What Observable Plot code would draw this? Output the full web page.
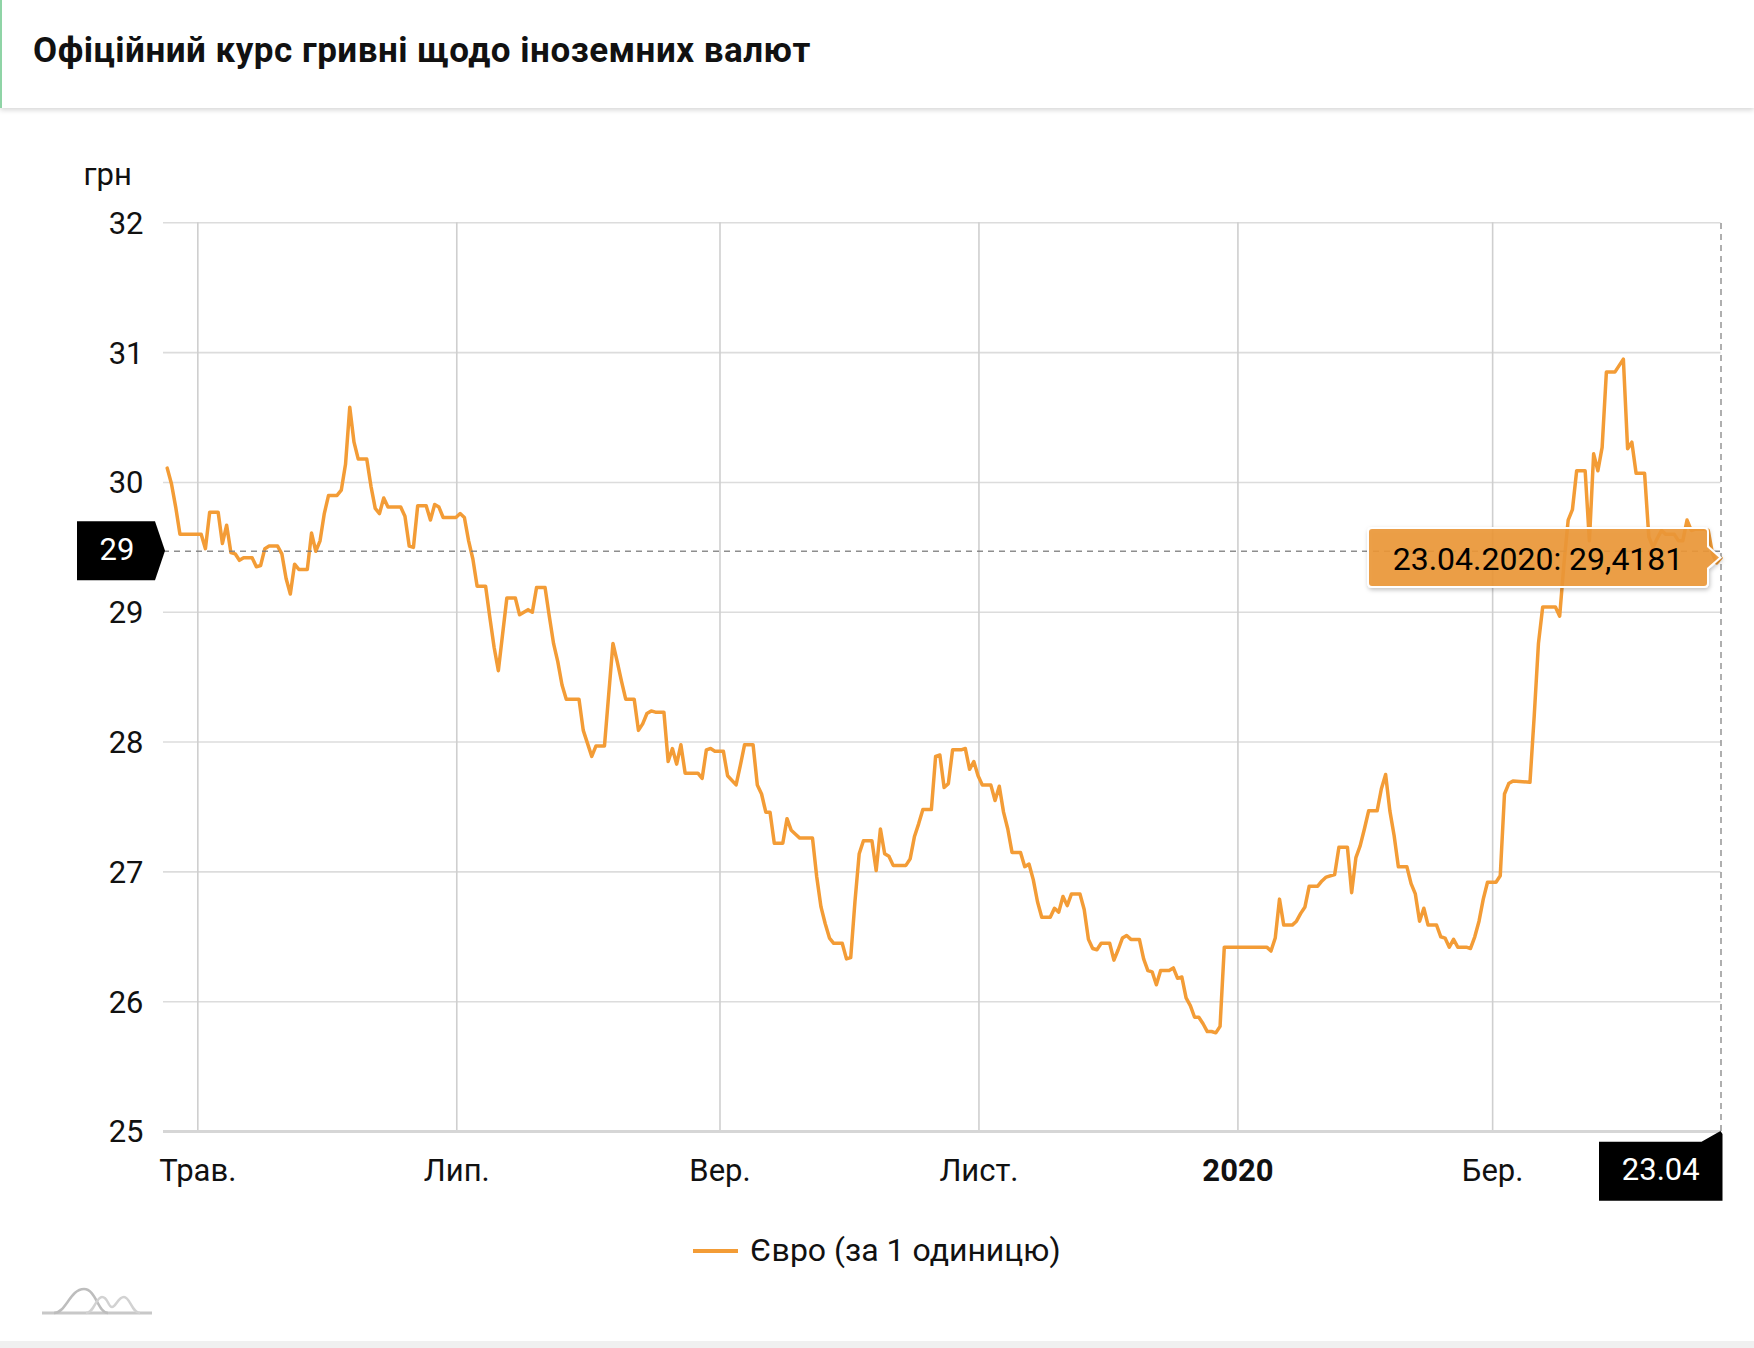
<!DOCTYPE html>
<html>
<head>
<meta charset="utf-8">
<script src="https://cdn.jsdelivr.net/npm/d3@7"></script>
<script src="https://cdn.jsdelivr.net/npm/@observablehq/plot@0.6"></script>
<style>
  html, body { margin: 0; padding: 0; background: #fff; }
  body { width: 1754px; height: 1348px; position: relative; overflow: hidden; font-family: Roboto, "Noto Sans", sans-serif; color: #111; }
  #header { position: absolute; left: 0; top: 0; width: 1754px; height: 108px; background: #fff;
            box-shadow: 0 2px 5px rgba(0,0,0,0.17); border-left: 2px solid #8fd4a6; box-sizing: border-box; z-index: 2; }
  #title { position: absolute; left: 31px; top: 33px; font-size: 35px; line-height: 35px; letter-spacing: 0.5px; font-weight: bold; color: #111; white-space: nowrap; }
  #chart { position: absolute; left: 0; top: 120px; }
  #legend { position: absolute; left: 0; top: 1235px; width: 1754px; height: 40px; }
  #legend .sw { position: absolute; left: 693px; top: 14px; width: 45px; height: 4px; background: #f39c36; }
  #legend .lb { position: absolute; left: 750px; top: 0; font-size: 32px; line-height: 31px; white-space: nowrap; color: #111; }
  #logo { position: absolute; left: 36px; top: 1280px; }
  #footer { position: absolute; left: 0; top: 1341px; width: 1754px; height: 7px; background: #f0f0f0; }
</style>
</head>
<body>
<div id="header"><div id="title">Офіційний курс гривні щодо іноземних валют</div></div>
<div id="chart"></div>
<div id="legend"><div class="sw"></div><div class="lb">Євро (за 1 одиницю)</div></div>
<svg id="logo" width="120" height="40" viewBox="0 0 120 40">
  <path d="M6 33 H116" stroke="#c8c8c8" stroke-width="3" fill="none"/>
  <path d="M18 33 C30 33, 34 9, 48 9 C60 9, 62 33, 72 33" stroke="#bdbdbd" stroke-width="2.5" fill="none"/>
  <path d="M50 33 C58 33, 60 17, 66 17 C72 17, 72 27, 76 27 C80 27, 82 17, 88 17 C94 17, 96 33, 104 33" stroke="#d2d2d2" stroke-width="2.5" fill="none"/>
</svg>
<div id="footer"></div>
<script>
// ---- data ----
const dates = [
"2019-04-23","2019-04-24","2019-04-25","2019-04-26","2019-05-01","2019-05-02","2019-05-03","2019-05-05","2019-05-06","2019-05-07",
"2019-05-08","2019-05-09","2019-05-10","2019-05-11","2019-05-13","2019-05-14","2019-05-15","2019-05-16","2019-05-17","2019-05-19",
"2019-05-20","2019-05-21","2019-05-22","2019-05-23","2019-05-24","2019-05-26","2019-05-27","2019-05-28","2019-05-29","2019-05-30",
"2019-05-31","2019-06-02","2019-06-03","2019-06-04","2019-06-05","2019-06-06","2019-06-07","2019-06-09","2019-06-10","2019-06-11",
"2019-06-12","2019-06-13","2019-06-14","2019-06-17","2019-06-18","2019-06-19","2019-06-20","2019-06-21","2019-06-23","2019-06-24",
"2019-06-25","2019-06-26","2019-06-27","2019-06-30","2019-07-01","2019-07-02","2019-07-03","2019-07-04","2019-07-05","2019-07-07",
"2019-07-08","2019-07-09","2019-07-10","2019-07-11","2019-07-12","2019-07-14","2019-07-15","2019-07-16","2019-07-17","2019-07-18",
"2019-07-19","2019-07-21","2019-07-22","2019-07-23","2019-07-24","2019-07-25","2019-07-26","2019-07-29","2019-07-30","2019-07-31",
"2019-08-01","2019-08-02","2019-08-04","2019-08-05","2019-08-06","2019-08-07","2019-08-08","2019-08-09","2019-08-11","2019-08-12",
"2019-08-13","2019-08-14","2019-08-15","2019-08-16","2019-08-18","2019-08-19","2019-08-20","2019-08-21","2019-08-22","2019-08-23",
"2019-08-26","2019-08-27","2019-08-28","2019-08-29","2019-08-30","2019-09-01","2019-09-02","2019-09-04","2019-09-05","2019-09-06",
"2019-09-08","2019-09-09","2019-09-10","2019-09-11","2019-09-12","2019-09-13","2019-09-15","2019-09-16","2019-09-17","2019-09-18",
"2019-09-19","2019-09-22","2019-09-23","2019-09-24","2019-09-25","2019-09-26","2019-09-27","2019-09-29","2019-09-30","2019-10-01",
"2019-10-02","2019-10-03","2019-10-04","2019-10-06","2019-10-07","2019-10-08","2019-10-09","2019-10-10","2019-10-11","2019-10-14",
"2019-10-15","2019-10-16","2019-10-17","2019-10-18","2019-10-20","2019-10-21","2019-10-22","2019-10-23","2019-10-24","2019-10-25",
"2019-10-27","2019-10-28","2019-10-29","2019-10-30","2019-10-31","2019-11-01","2019-11-03","2019-11-04","2019-11-05","2019-11-06",
"2019-11-07","2019-11-08","2019-11-10","2019-11-11","2019-11-12","2019-11-13","2019-11-14","2019-11-15","2019-11-17","2019-11-18",
"2019-11-19","2019-11-20","2019-11-21","2019-11-22","2019-11-24","2019-11-25","2019-11-26","2019-11-27","2019-11-28","2019-11-29",
"2019-12-01","2019-12-02","2019-12-03","2019-12-04","2019-12-05","2019-12-06","2019-12-08","2019-12-09","2019-12-10","2019-12-11",
"2019-12-12","2019-12-13","2019-12-15","2019-12-16","2019-12-17","2019-12-18","2019-12-19","2019-12-20","2019-12-21","2019-12-22",
"2019-12-23","2019-12-24","2019-12-25","2019-12-26","2019-12-27","2019-12-28","2020-01-07","2020-01-08","2020-01-09","2020-01-10",
"2020-01-11","2020-01-13","2020-01-14","2020-01-15","2020-01-16","2020-01-17","2020-01-19","2020-01-20","2020-01-21","2020-01-23",
"2020-01-24","2020-01-26","2020-01-27","2020-01-28","2020-01-29","2020-01-30","2020-01-31","2020-02-02","2020-02-03","2020-02-04",
"2020-02-05","2020-02-06","2020-02-07","2020-02-09","2020-02-10","2020-02-11","2020-02-12","2020-02-13","2020-02-14","2020-02-16",
"2020-02-17","2020-02-18","2020-02-19","2020-02-20","2020-02-21","2020-02-23","2020-02-24","2020-02-25","2020-02-26","2020-02-27",
"2020-02-28","2020-03-01","2020-03-02","2020-03-03","2020-03-04","2020-03-05","2020-03-09","2020-03-10","2020-03-11","2020-03-12",
"2020-03-15","2020-03-16","2020-03-17","2020-03-18","2020-03-19","2020-03-20","2020-03-22","2020-03-23","2020-03-24","2020-03-25",
"2020-03-26","2020-03-27","2020-03-29","2020-03-30","2020-03-31","2020-04-01","2020-04-02","2020-04-03","2020-04-05","2020-04-06",
"2020-04-07","2020-04-08","2020-04-09","2020-04-10","2020-04-12","2020-04-13","2020-04-14","2020-04-15","2020-04-16","2020-04-17",
"2020-04-19","2020-04-20","2020-04-21","2020-04-22","2020-04-23"
];
const euroRates = [
30.11,29.99,29.81,29.60,29.60,29.49,29.77,29.77,29.53,29.67,
29.46,29.45,29.40,29.42,29.42,29.35,29.36,29.49,29.51,29.51,
29.45,29.26,29.14,29.37,29.33,29.33,29.61,29.47,29.55,29.76,
29.90,29.90,29.94,30.14,30.58,30.31,30.18,30.18,29.97,29.80,
29.76,29.88,29.81,29.81,29.74,29.51,29.50,29.82,29.82,29.71,
29.83,29.81,29.73,29.73,29.76,29.73,29.55,29.41,29.20,29.20,
28.96,28.73,28.55,28.83,29.11,29.11,28.98,29.00,29.02,29.00,
29.19,29.19,28.97,28.76,28.62,28.44,28.33,28.33,28.09,27.99,
27.89,27.97,27.97,28.37,28.76,28.62,28.47,28.33,28.33,28.09,
28.14,28.22,28.24,28.23,28.23,27.85,27.95,27.83,27.98,27.76,
27.76,27.72,27.94,27.95,27.93,27.93,27.74,27.67,27.82,27.98,
27.98,27.67,27.60,27.46,27.46,27.22,27.22,27.41,27.32,27.29,
27.26,27.26,26.96,26.73,26.60,26.49,26.45,26.45,26.33,26.34,
26.77,27.14,27.24,27.24,27.01,27.33,27.14,27.12,27.05,27.05,
27.10,27.27,27.37,27.48,27.48,27.89,27.90,27.65,27.68,27.94,
27.94,27.95,27.79,27.85,27.74,27.67,27.67,27.55,27.66,27.46,
27.33,27.15,27.15,27.04,27.06,26.94,26.77,26.65,26.65,26.72,
26.69,26.81,26.74,26.83,26.83,26.71,26.48,26.41,26.40,26.45,
26.45,26.32,26.40,26.49,26.51,26.48,26.48,26.33,26.24,26.23,
26.13,26.24,26.24,26.26,26.18,26.19,26.03,25.97,25.88,25.88,
25.83,25.77,25.77,25.76,25.81,26.42,26.42,26.39,26.49,26.79,
26.59,26.59,26.62,26.68,26.73,26.89,26.89,26.93,26.96,26.98,
27.19,27.19,26.84,27.11,27.20,27.33,27.47,27.47,27.64,27.75,
27.47,27.28,27.04,27.04,26.91,26.83,26.62,26.72,26.59,26.59,
26.50,26.49,26.42,26.48,26.42,26.42,26.41,26.50,26.62,26.79,
26.92,26.92,26.97,27.60,27.68,27.70,27.69,28.20,28.76,29.04,
29.04,28.97,29.37,29.71,29.79,30.09,30.09,29.55,30.22,30.09,
30.27,30.85,30.85,30.90,30.95,30.26,30.31,30.07,30.07,29.58,
29.50,29.57,29.63,29.60,29.60,29.55,29.55,29.71,29.63,29.64,
29.64,29.63,29.45,29.38,29.4181
];
const yTicks = [25, 26, 27, 28, 29, 30, 31, 32];
const monthTicks = ["2019-05-01", "2019-07-01", "2019-09-01", "2019-11-01", "2020-01-01", "2020-03-01"];
const monthLabels = ["Трав.", "Лип.", "Вер.", "Лист.", "2020", "Бер."];
const boldLabels = ["2020"];
const crosshairValue = 29.47;   // horizontal crosshair level
const unitLabel = "грн";

// ---- build ----
const parse = d3.utcParse("%Y-%m-%d");
const data = dates.map((d, i) => ({date: parse(d), rate: euroRates[i]}));
const ticks = monthTicks.map((d, i) => ({t: parse(d), label: monthLabels[i]}));
const shiftHours = 19; // the source draws each day's point late in the day, right of the month grid line
const X = d => d3.utcHour.offset(d.date, shiftHours);
const last = data[data.length - 1];
const FONT = "Roboto, 'Noto Sans', sans-serif";

function overlays(index, scales, values, dimensions) {
  const {x, y} = scales;
  const g = d3.create("svg:g").attr("font-family", FONT);
  const left = dimensions.marginLeft;
  const px = x(X(last)), py = y(last.rate), cy = y(crosshairValue), y25 = y(25);

  // y crosshair tag
  g.append("path")
    .attr("d", `M${left - 86},${cy - 29.5}H${left - 8}L${left + 2},${cy}L${left - 8},${cy + 29.5}H${left - 86}Z`)
    .attr("fill", "#000");
  g.append("text").attr("x", left - 46).attr("y", cy + 9.5).attr("text-anchor", "middle")
    .attr("fill", "#fff").attr("font-size", 31).text(d3.format(".0f")(crosshairValue));

  // x crosshair tag
  const L = px - 121.5, R = px + 2, T = y25 + 10.7, B = y25 + 69.7;
  g.append("path")
    .attr("d", `M${L},${T}H${px - 19}L${px},${y25}L${R},${y25 + 3}V${B}H${L}Z`)
    .attr("fill", "#000");
  g.append("text").attr("x", (L + R) / 2).attr("y", y25 + 49).attr("text-anchor", "middle")
    .attr("fill", "#fff").attr("font-size", 31).text(d3.utcFormat("%d.%m")(last.date));

  // tooltip
  const defs = g.append("defs");
  const f = defs.append("filter").attr("id", "tipShadow").attr("x", "-10%").attr("y", "-30%").attr("width", "120%").attr("height", "170%");
  f.append("feDropShadow").attr("dx", 1).attr("dy", 2).attr("stdDeviation", 2).attr("flood-color", "#000").attr("flood-opacity", 0.25);
  const r = 4, tr = px - 12.5, tl = tr - 340, tt = py - 29.5, tb = py + 29.5;
  g.append("path")
    .attr("d", `M${tl + r},${tt}H${tr - r}Q${tr},${tt},${tr},${tt + r}V${py - 11}L${px},${py}L${tr},${py + 11}V${tb - r}Q${tr},${tb},${tr - r},${tb}H${tl + r}Q${tl},${tb},${tl},${tb - r}V${tt + r}Q${tl},${tt},${tl + r},${tt}Z`)
    .attr("fill", "#ec9838").attr("fill-opacity", 0.9)
    .attr("stroke", "#fff").attr("stroke-width", 2)
    .attr("filter", "url(#tipShadow)");
  const label = `${d3.utcFormat("%d.%m.%Y")(last.date)}: ${d3.format(".4f")(last.rate).replace(".", ",")}`;
  g.append("text").attr("x", (tl + tr) / 2).attr("y", py + 12.5).attr("text-anchor", "middle")
    .attr("fill", "#000").attr("font-size", 32).text(label);
  return g.node();
}

const chart = Plot.plot({
  width: 1754,
  height: 1100,
  marginTop: 102.3,
  marginBottom: 89,
  marginLeft: 163,
  marginRight: 33.5,
  x: {type: "utc", domain: [new Date("2019-04-22T22:00:00Z"), X(last)], axis: null},
  y: {domain: [25, 32], axis: null},
  style: {fontFamily: FONT, fontSize: "31px", color: "#111", background: "transparent", overflow: "visible"},
  marks: [
    Plot.ruleY(yTicks.filter(t => t > 25), {stroke: "#dcdcdc", strokeWidth: 1.6}),
    Plot.ruleX(ticks, {x: "t", y1: 25, y2: 32, stroke: "#cfcfcf", strokeWidth: 1.6}),
    Plot.ruleY([25], {stroke: "#d6d6d6", strokeWidth: 3}),
    Plot.line(data, {x: X, y: "rate", stroke: "#f39c36", strokeWidth: 3.5, strokeLinejoin: "round", strokeLinecap: "round"}),
    Plot.ruleY([crosshairValue], {stroke: "#7a7a7a", strokeOpacity: 0.85, strokeWidth: 1.6, strokeDasharray: "6,5"}),
    Plot.ruleX([last], {x: X, y1: 25, y2: 32, stroke: "#8a8a8a", strokeOpacity: 0.85, strokeWidth: 1.6, strokeDasharray: "6,5"}),
    Plot.text(yTicks, {y: d => d, frameAnchor: "left", dx: -20, dy: 1, textAnchor: "end", fontSize: 31, fill: "#111"}),
    Plot.text([unitLabel], {frameAnchor: "top-left", dx: -80, dy: -38, textAnchor: "start", lineAnchor: "bottom", fontSize: 31, fill: "#111"}),
    Plot.text(ticks.filter(d => !boldLabels.includes(d.label)), {x: "t", text: "label", frameAnchor: "bottom", dy: 49, lineAnchor: "bottom", fontSize: 31, fill: "#111"}),
    Plot.text(ticks.filter(d => boldLabels.includes(d.label)), {x: "t", text: "label", frameAnchor: "bottom", dy: 49, lineAnchor: "bottom", fontSize: 31, fontWeight: "bold", fill: "#111"}),
    overlays
  ]
});
document.getElementById("chart").appendChild(chart);
</script>
</body>
</html>
